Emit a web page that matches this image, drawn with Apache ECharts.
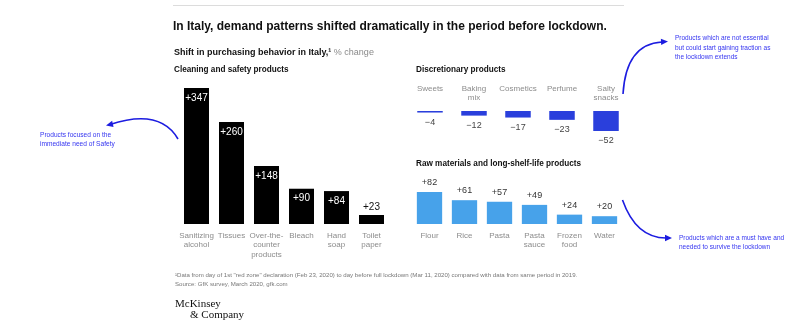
<!DOCTYPE html>
<html><head><meta charset="utf-8">
<script src="https://cdn.jsdelivr.net/npm/echarts@6/dist/echarts.min.js"></script>
<style>html,body{margin:0;padding:0;background:#fff}#c{width:800px;height:329px}</style>
</head><body><div id="c"></div>
<script>
const cleaningCats = ['Sanitizing\nalcohol','Tissues','Over-the-\ncounter\nproducts','Bleach','Hand\nsoap','Toilet\npaper'];
const cleaningVals = [347,260,148,90,84,23];
const discCats = ['Sweets','Baking\nmix','Cosmetics','Perfume','Salty\nsnacks'];
const discVals = [-4,-12,-17,-23,-52];
const rawCats = ['Flour','Rice','Pasta','Pasta\nsauce','Frozen\nfood','Water'];
const rawVals = [82,61,57,49,24,20];

const FONT = '"Liberation Sans", Arial, sans-serif';
const BLUE_TXT = '#3535f0';
const BLUE_LINE = '#1c1ce0';
const fmt = v => (v >= 0 ? '+' + v : '\u2212' + Math.abs(v));

const chart = echarts.init(document.getElementById('c'), null, {renderer:'canvas'});

function txt(x, y, text, opt) {
  opt = opt || {};
  return {type:'text', x:x, y:y, silent:true, style:Object.assign({
    text:text, fill:'#111', fontSize:8, fontFamily:FONT, fontWeight:'normal',
    textAlign:'left', textVerticalAlign:'middle', align:'left', verticalAlign:'middle'
  }, opt)};
}
function arrowHead(x, y, dir) {
  const L = 7, W = 3.2;
  const bx = x - L*Math.cos(dir), by = y - L*Math.sin(dir);
  const px = -Math.sin(dir)*W, py = Math.cos(dir)*W;
  return {type:'polygon', silent:true, shape:{points:[[x,y],[bx+px,by+py],[bx-px,by-py]]}, style:{fill:BLUE_LINE}};
}
function curve(x1,y1,cx,cy,x2,y2){
  return {type:'bezierCurve', silent:true, shape:{x1:x1,y1:y1,cpx1:cx,cpy1:cy,x2:x2,y2:y2}, style:{stroke:BLUE_LINE, lineWidth:1.6, fill:null}};
}

const axisLabelBase = {color:'#8c8c8c', fontSize:8, lineHeight:9.5, interval:0, fontFamily:FONT};

const option = {
  animation:false,
  grid:[
    {left:179, top:88, width:210, height:136},
    {left:408, top:111, width:220, height:20},
    {left:412, top:192, width:210, height:32}
  ],
  xAxis:[
    {type:'category', gridIndex:0, data:cleaningCats, axisLine:{show:false}, axisTick:{show:false},
      axisLabel:Object.assign({margin:7}, axisLabelBase)},
    {type:'category', gridIndex:1, position:'top', data:discCats, axisLine:{show:false}, axisTick:{show:false},
      axisLabel:Object.assign({margin:27, verticalAlign:'top'}, axisLabelBase)},
    {type:'category', gridIndex:2, data:rawCats, axisLine:{show:false}, axisTick:{show:false},
      axisLabel:Object.assign({margin:7}, axisLabelBase)}
  ],
  yAxis:[
    {type:'value', gridIndex:0, min:0, max:347, show:false},
    {type:'value', gridIndex:1, min:-52, max:0, show:false},
    {type:'value', gridIndex:2, min:0, max:82, show:false}
  ],
  series:[
    {type:'bar', xAxisIndex:0, yAxisIndex:0, barWidth:25,
      itemStyle:{color:'#000'},
      data:cleaningVals.map(v => v < 40
        ? {value:v, label:{position:'top', color:'#111', distance:3}}
        : {value:v}),
      label:{show:true, position:'insideTop', distance:5, color:'#fff', fontSize:10, fontFamily:FONT, formatter:p=>fmt(p.value)}},
    {type:'bar', xAxisIndex:1, yAxisIndex:1, barWidth:25.5,
      itemStyle:{color:'#2a3fdc'}, data:discVals,
      label:{show:true, position:'bottom', distance:5.5, color:'#444', fontSize:9, fontFamily:FONT, formatter:p=>fmt(p.value)}},
    {type:'bar', xAxisIndex:2, yAxisIndex:2, barWidth:25.3,
      itemStyle:{color:'#47a2ea'}, data:rawVals,
      label:{show:true, position:'top', distance:5, color:'#333', fontSize:9, fontFamily:FONT, formatter:p=>fmt(p.value)}}
  ],
  graphic:[
    {type:'line', silent:true, shape:{x1:173,y1:5.5,x2:624,y2:5.5}, style:{stroke:'#dcdcdc', lineWidth:1}},
    txt(173, 27, 'In Italy, demand patterns shifted dramatically in the period before lockdown.', {fontSize:12, fontWeight:'bold', fill:'#111'}),
    {type:'text', x:174, y:53, silent:true, style:{
      text:'{b|Shift in purchasing behavior in Italy,¹}{g| % change}', fontFamily:FONT,
      textVerticalAlign:'middle', verticalAlign:'middle',
      rich:{b:{fontSize:9, fontWeight:'bold', fill:'#111', fontFamily:FONT}, g:{fontSize:9, fill:'#8a8a8a', fontFamily:FONT}}}},
    txt(174, 70, 'Cleaning and safety products', {fontSize:8.2, fontWeight:'bold'}),
    txt(416, 70, 'Discretionary products', {fontSize:8.2, fontWeight:'bold'}),
    txt(416, 163.3, 'Raw materials and long-shelf-life products', {fontSize:8.2, fontWeight:'bold'}),
    curve(178,139, 160,108, 110,124.5),
    arrowHead(106,125.5, Math.PI*0.93),
    txt(40, 135, 'Products focused on the', {fontSize:6.6, fill:BLUE_TXT}),
    txt(40, 144, 'immediate need of Safety', {fontSize:6.6, fill:BLUE_TXT}),
    curve(623,94, 626,44, 662,42),
    arrowHead(668,41.5, -0.05),
    txt(675, 38.3, 'Products which are not essential', {fontSize:6.5, fill:BLUE_TXT}),
    txt(675, 48, 'but could start gaining traction as', {fontSize:6.5, fill:BLUE_TXT}),
    txt(675, 57.5, 'the lockdown extends', {fontSize:6.5, fill:BLUE_TXT}),
    curve(622.5,200, 636,238, 666,238),
    arrowHead(672,238, 0),
    txt(679, 238.3, 'Products which are a must have and', {fontSize:6.5, fill:BLUE_TXT}),
    txt(679, 247.7, 'needed to survive the lockdown', {fontSize:6.5, fill:BLUE_TXT}),
    txt(175, 275.7, '¹Data from day of 1st "red zone" declaration (Feb 23, 2020) to day before full lockdown (Mar 11, 2020) compared with data from same period in 2019.', {fontSize:6.1, fill:'#777'}),
    txt(175, 284.3, 'Source: GfK survey, March 2020, gfk.com', {fontSize:6.1, fill:'#777'}),
    txt(175, 304.3, 'McKinsey', {fontSize:11, fontFamily:'"Liberation Serif", "DejaVu Serif", serif', fill:'#111'}),
    txt(190, 315, '& Company', {fontSize:11, fontFamily:'"Liberation Serif", "DejaVu Serif", serif', fill:'#111'})
  ]
};
chart.setOption(option);
</script></body></html>
